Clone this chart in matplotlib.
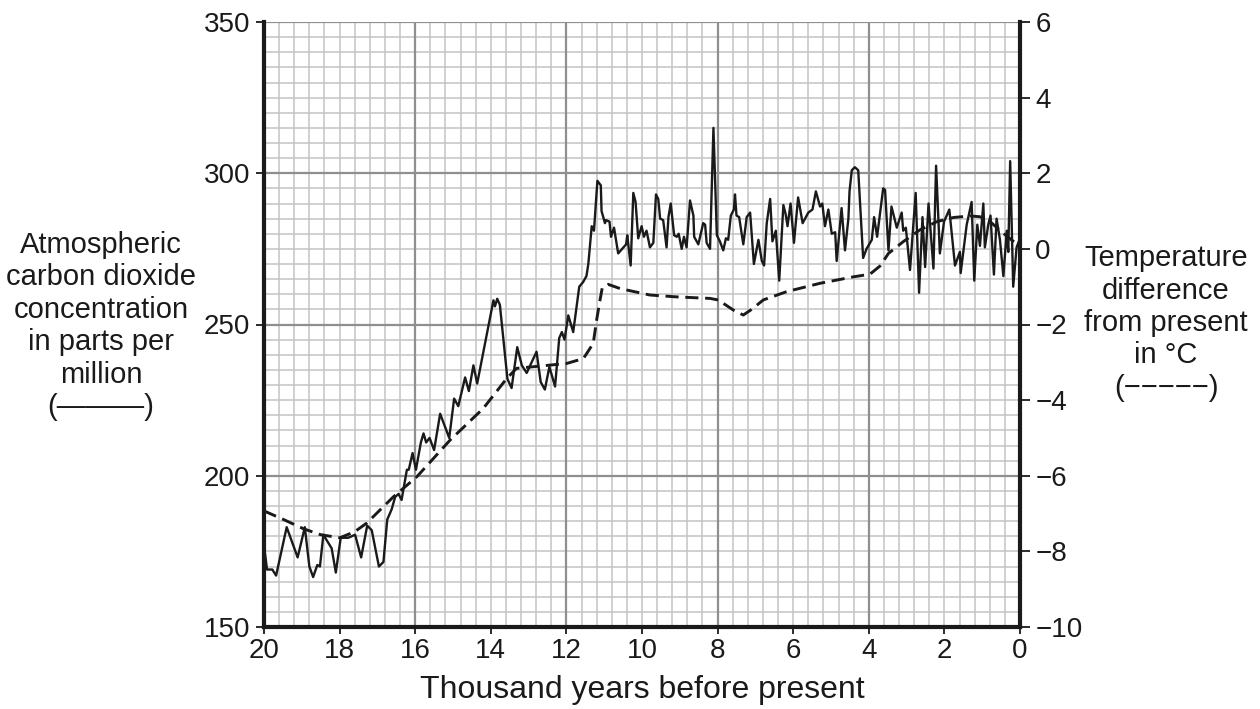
import matplotlib
matplotlib.use("Agg")
import matplotlib.pyplot as plt
import numpy as np

plt.rcParams['font.family'] = ['Liberation Sans', 'DejaVu Sans']

# ---- data ----
co2_kyr = [19.97, 19.92, 19.78, 19.68, 19.40, 19.11, 18.92, 18.80, 18.70, 18.59,
           18.52, 18.43, 18.21, 18.10, 17.97, 17.77, 17.59, 17.43, 17.27, 17.15,
           16.96, 16.84, 16.74, 16.62, 16.53, 16.44, 16.36, 16.22, 16.17, 16.07,
           15.98, 15.85, 15.78, 15.71, 15.62, 15.50, 15.34, 15.10, 14.97, 14.86,
           14.68, 14.58, 14.46, 14.36, 13.93, 13.89, 13.83, 13.76, 13.56, 13.45,
           13.30, 13.18, 13.05, 12.92, 12.79, 12.68, 12.57, 12.45, 12.30, 12.19,
           12.12, 12.05, 11.95, 11.82, 11.66, 11.56, 11.47, 11.42, 11.33, 11.27,
           11.18, 11.09, 11.07, 10.98, 10.95, 10.86, 10.82, 10.74, 10.63, 10.49,
           10.42, 10.39, 10.30, 10.23, 10.17, 10.10, 10.01, 9.95, 9.88, 9.79,
           9.70, 9.63, 9.57, 9.52, 9.44, 9.35, 9.30, 9.24, 9.15, 9.08,
           9.03, 8.95, 8.89, 8.82, 8.73, 8.64, 8.62, 8.51, 8.38, 8.33,
           8.29, 8.20, 8.11, 8.02, 7.94, 7.85, 7.78, 7.72, 7.65, 7.57,
           7.54, 7.50, 7.43, 7.32, 7.23, 7.14, 7.04, 6.92, 6.83, 6.77,
           6.70, 6.61, 6.55, 6.46, 6.37, 6.26, 6.20, 6.15, 6.07, 5.98,
           5.87, 5.75, 5.60, 5.49, 5.40, 5.29, 5.23, 5.16, 5.07, 4.98,
           4.89, 4.85, 4.72, 4.63, 4.54, 4.51, 4.45, 4.37, 4.28, 4.15,
           4.06, 3.92, 3.86, 3.78, 3.62, 3.57, 3.48, 3.40, 3.26, 3.13,
           3.09, 3.02, 2.91, 2.76, 2.67, 2.58, 2.51, 2.42, 2.29, 2.22,
           2.12, 2.01, 1.87, 1.72, 1.59, 1.57, 1.41, 1.28, 1.21, 1.13,
           1.06, 0.97, 0.93, 0.84, 0.78, 0.69, 0.62, 0.53, 0.44, 0.35,
           0.31, 0.26, 0.18, 0.09, 0.00]
co2_ppm = [174, 169, 169, 167, 183, 173, 183, 170, 166.5, 170.5,
           170, 180.5, 176, 168, 179.5, 179.5, 180.5, 173, 183.5, 182,
           170, 171.5, 185.5, 189, 193, 194, 192, 202, 202, 207.5,
           202, 211, 214, 211, 212.5, 208.5, 220.5, 212.5, 225.5, 223,
           232.5, 228, 236.5, 230.5, 258, 256, 258.5, 256.5, 232, 229,
           242.5, 236.5, 234, 237.5, 241, 231, 228.5, 236, 229.5, 245.5,
           247.5, 245, 253, 247.5, 262.5, 264, 266, 270, 282.5, 281,
           297.5, 296, 287.5, 283.5, 284.5, 284, 279, 282, 273.5, 275.5,
           276.5, 279.5, 269.5, 293.5, 290.5, 278.5, 282.5, 279, 281, 275.5,
           277, 293, 291.5, 285, 284.5, 275.5, 285.5, 290, 279.5, 279,
           280, 275, 279, 275.5, 291, 286, 279, 276.5, 283.5, 283,
           277, 275, 315, 279.5, 277.5, 274.5, 278.5, 278, 286, 288,
           293, 286, 285.5, 276.5, 285.5, 287, 270, 278, 271, 269.5,
           283.5, 291.5, 277.5, 281, 264.5, 289.5, 286.5, 282.5, 290, 277,
           292, 283.5, 287, 288, 294, 289, 290, 282.5, 288, 280,
           280.5, 271, 288.5, 274.5, 285, 294, 301, 302, 301, 272,
           275, 278, 285.5, 279, 295, 294.5, 274.5, 289, 282, 287,
           281, 282, 268, 293.5, 260.5, 285.5, 269, 290, 268.5, 302.5,
           273.5, 284, 288, 269.5, 274, 267, 283, 290.5, 264.5, 283,
           276, 290, 275.5, 283, 286, 266.5, 285, 278, 266, 281,
           274, 304, 262.5, 275.5, 278.5]

temp_kyr = [20.0, 19.5, 18.96, 18.5, 17.99, 17.6, 17.28, 16.58, 15.96, 15.08,
            14.20, 13.58, 13.32, 12.70, 11.99, 11.55, 11.29, 11.20, 11.11, 11.05,
            10.89, 10.58, 9.79, 9.08, 8.20, 7.94, 7.85, 7.58, 7.32, 7.10,
            6.79, 6.17, 5.29, 4.41, 3.97, 3.70, 3.48, 3.09, 2.65, 2.20,
            1.76, 1.32, 1.06, 0.79, 0.44, 0.0]
temp_c = [-6.93, -7.15, -7.40, -7.56, -7.64, -7.48, -7.25, -6.56, -6.03, -5.06,
          -4.22, -3.43, -3.16, -3.10, -3.03, -2.90, -2.50, -1.88, -1.35, -1.02,
          -0.94, -1.05, -1.22, -1.27, -1.31, -1.36, -1.44, -1.62, -1.75, -1.60,
          -1.35, -1.13, -0.91, -0.74, -0.67, -0.45, -0.12, 0.19, 0.50, 0.72,
          0.83, 0.87, 0.85, 0.72, 0.41, 0.06]

x_ticks = [20, 18, 16, 14, 12, 10, 8, 6, 4, 2, 0]
co2_ticks = [150, 200, 250, 300, 350]
temp_ticks = [-10, -8, -6, -4, -2, 0, 2, 4, 6]

FS_TICK = 20
FS_LAB = 21
INK = '#1a1a1a'

fig = plt.figure(figsize=(12.6, 7.09), dpi=100)
ax = fig.add_axes([264/1260, 1 - 627/709, (1020-264)/1260, (627-22)/709])

# graph-paper grid
for xv in np.arange(0, 20.001, 0.4):
    ax.axvline(xv, color='#c3c3c3', lw=1.1, zorder=0.5)
for yv in np.arange(150, 350.001, 5):
    ax.axhline(yv, color='#c3c3c3', lw=1.1, zorder=0.5)
for xv in np.arange(0, 20.001, 4):
    ax.axvline(xv, color='#8f8f8f', lw=1.6, zorder=0.6)
for yv in np.arange(150, 350.001, 50):
    ax.axhline(yv, color='#8f8f8f', lw=1.6, zorder=0.6)

ax.plot(co2_kyr, co2_ppm, color=INK, lw=1.7, zorder=3)
ax.set_xlim(20, 0)
ax.set_ylim(150, 350)
ax.set_xticks(x_ticks)
ax.set_xticklabels([str(t) for t in x_ticks])
ax.set_yticks(co2_ticks)
ax.tick_params(axis='x', direction='out', length=5, width=1.3, labelsize=FS_TICK,
               color=INK, labelcolor=INK, pad=3)
ax.tick_params(axis='y', direction='out', length=6, width=1.3, labelsize=FS_TICK,
               color=INK, labelcolor=INK, pad=4)
for s in ['left', 'bottom']:
    ax.spines[s].set_linewidth(3)
    ax.spines[s].set_color(INK)
ax.spines['top'].set_visible(False)
ax.spines['right'].set_visible(False)
ax.set_xlabel('Thousand years before present', fontsize=23, color=INK, labelpad=8)

ax2 = ax.twinx()
ax2.plot(temp_kyr, temp_c, color=INK, lw=2.1, dashes=(4.5, 2.3), zorder=3)
ax2.set_ylim(-10, 6)
ax2.set_yticks(temp_ticks)
ax2.set_yticklabels([str(t).replace('-', '\u2212') for t in temp_ticks])
ax2.tick_params(axis='y', direction='out', length=7, width=1.3, labelsize=FS_TICK,
                color=INK, labelcolor=INK, pad=4)
for s in ['left', 'top', 'bottom']:
    ax2.spines[s].set_visible(False)
ax2.spines['right'].set_linewidth(3)
ax2.spines['right'].set_color(INK)

fig.text(101/1260, 1 - 326/709,
         'Atmospheric\ncarbon dioxide\nconcentration\nin parts per\nmillion\n(\u2014\u2014\u2014)',
         ha='center', va='center', multialignment='center', fontsize=FS_LAB,
         color=INK, linespacing=1.2)
fig.text(1166/1260, 1 - 323/709,
         'Temperature\ndifference\nfrom present\nin \u00b0C\n(\u2212\u2212\u2212\u2212\u2212)',
         ha='center', va='center', multialignment='center', fontsize=FS_LAB,
         color=INK, linespacing=1.2)

fig.savefig('out.png', dpi=100)
